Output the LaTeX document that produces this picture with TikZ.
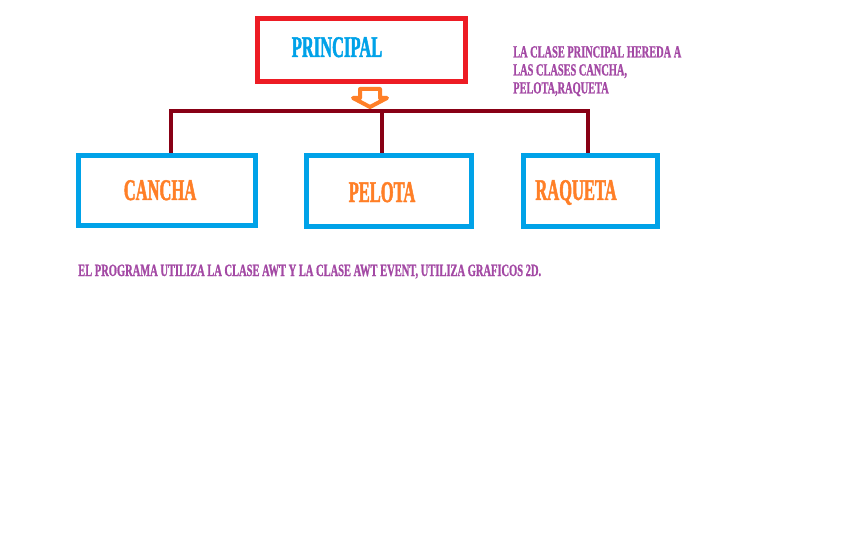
\documentclass[tikz,border=0pt]{standalone}
\usepackage{fontspec}
\newfontfamily\posterfont{Liberation Serif}[FakeStretch=0.55,FakeBold=1.5]
\newfontfamily\notefont{Liberation Serif}[FakeStretch=0.61,FakeBold=1]
\definecolor{pRed}{HTML}{ED1C24}
\definecolor{pBlue}{HTML}{00A2E8}
\definecolor{pOrange}{HTML}{FF7F27}
\definecolor{pDark}{HTML}{880015}
\definecolor{pPurple}{HTML}{A349A4}
\begin{document}
\begin{tikzpicture}[x=1pt,y=-1pt,
	redbox/.style={draw=pRed,line width=5pt,inner sep=0pt,minimum width=208pt,minimum height=63pt},
	bluebox/.style={draw=pBlue,line width=5pt,inner sep=0pt,minimum height=71pt},
	boxtitle/.style={font=\posterfont\bfseries\fontsize{30}{30}\selectfont,inner sep=0pt,anchor=base},
	note/.style={text=pPurple,font=\notefont\bfseries\fontsize{17}{18}\selectfont,inner sep=0pt,align=left},
	bus/.style={draw=pDark,line width=4pt}]
	\useasboundingbox (0,0) rectangle (864,540);
	\node[redbox] (principal) at (361.5,50) {};
	\node[bluebox,minimum width=177pt,minimum height=70pt] (cancha) at (167,190.5) {};
	\node[bluebox,minimum width=165pt] (pelota) at (389,191) {};
	\node[bluebox,minimum width=134pt] (raqueta) at (590.5,191) {};
	\node[boxtitle,text=pBlue] (principalT) at (337,57) {PRINCIPAL};
	\node[boxtitle,text=pOrange] (canchaT) at (160,200) {CANCHA};
	\node[boxtitle,text=pOrange] (pelotaT) at (382,202) {PELOTA};
	\node[boxtitle,text=pOrange] (raquetaT) at (576,200) {RAQUETA};
	\coordinate (bus) at (0,111);
	\coordinate (canchaTop) at ([xshift=4pt]cancha.north);
	\coordinate (pelotaTop) at ([xshift=-7pt]pelota.north);
	\coordinate (raquetaTop) at ([xshift=-3pt]raqueta.north);
	\coordinate (arrowTip) at (370,107);
	\draw[draw=pOrange,fill=white,line width=4pt,line join=round] (arrowTip) -- ++(-17,-9) -- ++(7,0) -- ++(0,-9) -- ++(20,0) -- ++(0,9) -- ++(7,0) -- cycle;
	\draw[bus] (canchaTop) -- (canchaTop |- bus) -- (raquetaTop |- bus) -- (raquetaTop);
	\draw[bus] (pelotaTop) -- (pelotaTop |- bus);
	\node[note,anchor=north west] (heredaNote) at (513,46) {LA CLASE PRINCIPAL HEREDA A\\LAS CLASES CANCHA,\\PELOTA,RAQUETA};
	\node[note,anchor=base west,font=\notefont\bfseries\fontsize{17.2}{18}\selectfont] (awtNote) at (78,276) {EL PROGRAMA UTILIZA LA CLASE AWT Y LA CLASE AWT EVENT, UTILIZA GRAFICOS 2D.};
\end{tikzpicture}
\end{document}
